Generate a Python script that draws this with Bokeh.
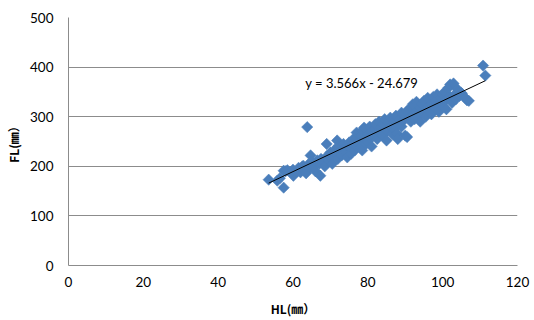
import numpy as np
from bokeh.plotting import figure
from bokeh.models import ColumnDataSource, Label, FixedTicker, Range1d
from bokeh.embed import file_html
from bokeh.resources import INLINE

# ---- data ----
hl = [53.5, 55.8, 57.5, 56.5, 57.5, 58.0, 60.1, 63.8, 110.8, 111.4, 106.5, 105.2, 103.0,
      58.5, 59.5, 60.0, 61.0, 61.5, 62.0, 62.5, 62.8, 63.0, 63.5, 64.0, 64.5, 64.7, 65.0,
      65.5, 66.0, 66.5, 67.0, 67.3, 67.5, 68.0, 68.5, 69.0, 69.0, 69.5, 70.0, 70.0, 70.5,
      71.0, 71.5, 71.8, 72.0, 72.0, 72.5, 73.0, 73.5, 73.5, 74.0, 74.5, 74.5, 75.0, 75.5,
      75.5, 76.0, 76.5, 76.5, 77.0, 77.0, 77.5, 78.0, 78.0, 78.5, 78.5, 79.0, 79.0, 79.5,
      80.0, 80.0, 80.5, 80.5, 81.0, 81.0, 81.5, 82.0, 82.0, 82.5, 83.0, 83.0, 83.5, 84.0,
      84.0, 84.5, 85.0, 85.0, 85.5, 86.0, 86.0, 86.5, 87.0, 87.0, 87.5, 87.8, 88.0, 88.0,
      88.5, 89.0, 89.0, 89.5, 90.0, 90.0, 90.5, 90.5, 91.0, 91.5, 91.5, 92.0, 92.0, 92.5,
      93.0, 93.0, 93.5, 94.0, 94.0, 94.5, 95.0, 95.0, 95.5, 96.0, 96.0, 96.5, 97.0, 97.0,
      97.5, 98.0, 98.0, 98.5, 99.0, 99.0, 99.5, 100.0, 100.0, 100.5, 101.0, 101.0, 101.5,
      102.0, 102.0, 102.5, 102.9, 103.5, 104.0, 104.5, 105.0, 106.0, 107.0]
fl = [173, 171, 157, 176, 191, 190, 181, 279, 403, 383, 333, 346, 343,
      192, 188, 193, 190, 197, 188, 200, 201, 193, 186, 203, 197, 222, 210,
      200, 190, 212, 205, 181, 215, 208, 200, 220, 245, 212, 228, 218, 205,
      232, 225, 252, 215, 240, 230, 222, 245, 235, 228, 218, 240, 248, 236,
      225, 245, 232, 258, 240, 268, 250, 262, 238, 272, 232, 255, 278, 245,
      265, 250, 280, 258, 270, 240, 262, 275, 285, 255, 268, 290, 278, 262,
      285, 295, 272, 252, 288, 280, 298, 265, 290, 275, 302, 266, 285, 255,
      295, 308, 280, 292, 300, 262, 312, 259, 298, 318, 290, 305, 325, 295,
      310, 330, 300, 318, 290, 325, 310, 332, 300, 320, 338, 312, 326, 305,
      340, 318, 332, 345, 325, 310, 338, 345, 322, 350, 335, 315, 358,
      340, 365, 328, 367, 335, 355, 342, 348, 338, 332]

slope = 3.566
intercept = -24.679
equation = "y = 3.566x - 24.679"
x_ticks = [0, 20, 40, 60, 80, 100, 120]
y_ticks = [0, 100, 200, 300, 400, 500]
x_title = "HL(㎜）"
y_title = "FL(㎜）"

FONT = "Lato"
TITLE_FONT = "Noto Sans CJK JP"
GRID = "#8c8c8c"
BLUE = "#4a7ebb"

p = figure(width=534, height=320, output_backend="svg", toolbar_location=None,
           x_range=Range1d(0, 120), y_range=Range1d(0, 500),
           min_border_left=68, min_border_right=17, min_border_top=17, min_border_bottom=55)
p.outline_line_color = None
p.background_fill_color = "white"
p.border_fill_color = "white"

src = ColumnDataSource(dict(x=hl, y=fl))
p.scatter("x", "y", source=src, marker="square", angle=np.pi / 4, size=8,
          fill_color=BLUE, line_color=BLUE, line_width=0.5)

x0, x1 = min(hl), max(hl)
p.line([x0, x1], [slope * x0 + intercept, slope * x1 + intercept], line_color="black", line_width=1)

p.add_layout(Label(x=63.3, y=367, text=equation, text_font=FONT, text_font_size="13px",
                   text_baseline="middle", text_color="black"))

p.xaxis.ticker = FixedTicker(ticks=x_ticks)
p.yaxis.ticker = FixedTicker(ticks=y_ticks)
for ax in (p.xaxis[0], p.yaxis[0]):
    ax.axis_line_color = GRID
    ax.major_tick_line_color = None
    ax.minor_tick_line_color = None
    ax.major_tick_out = 0
    ax.major_tick_in = 0
    ax.minor_tick_out = 0
    ax.minor_tick_in = 0
    ax.major_label_text_font = FONT
    ax.major_label_text_font_size = "13.5px"
    ax.major_label_text_color = "black"
    ax.axis_label_text_font = TITLE_FONT
    ax.axis_label_text_font_size = "12px"
    ax.axis_label_text_font_style = "bold"
    ax.axis_label_text_color = "black"
p.xaxis.axis_label = x_title
p.yaxis.axis_label = y_title
p.xaxis.major_label_standoff = 11
p.yaxis.major_label_standoff = 15
p.xaxis.axis_label_standoff = 10
p.yaxis.axis_label_standoff = 5

p.xgrid.grid_line_color = None
p.ygrid.grid_line_color = GRID
p.ygrid.ticker = FixedTicker(ticks=y_ticks)

open("out.html", "w").write(file_html(p, INLINE))
